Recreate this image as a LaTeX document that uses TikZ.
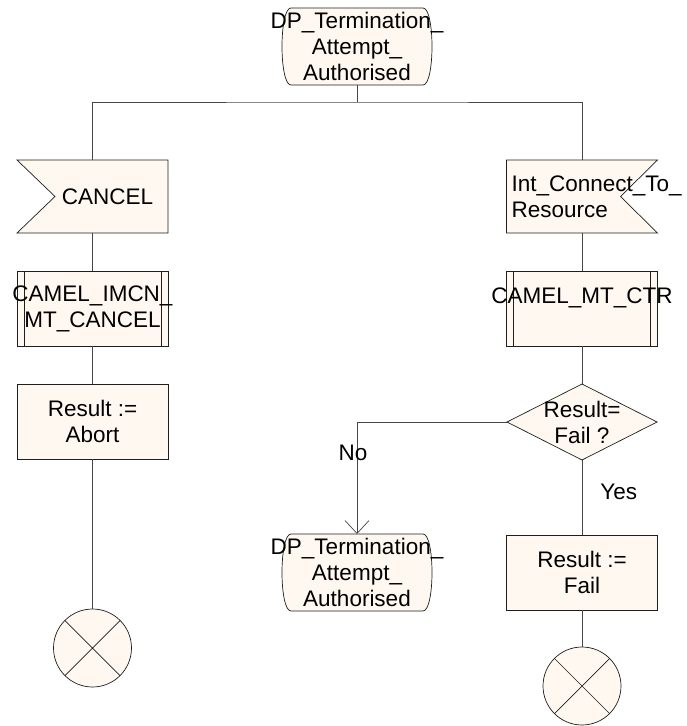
\documentclass[tikz,border=0pt]{standalone}
\usepackage{fontspec}
\setmainfont{Liberation Sans}
\usetikzlibrary{arrows.meta,positioning,shapes.geometric,backgrounds}

\definecolor{sdlfill}{RGB}{255,248,240}
\definecolor{sdlline}{RGB}{30,30,30}
\definecolor{sdlwire}{RGB}{70,70,70}
\newcommand{\spill}[1]{\makebox[0pt]{#1}}

\begin{document}
\begin{tikzpicture}[x=1pt, y=-1pt,
  node distance=38pt,
  base/.style={inner sep=0pt, outer sep=0pt, align=center, minimum width=151pt, minimum height=75pt, font=\fontsize{22.5}{26}\selectfont},
  outline/.style={draw=sdlline, fill=sdlfill, line width=.7pt},
  task/.style={base, outline},
  proc/.style={task, path picture={
      \draw[sdlline, line width=.7pt]
        ([xshift=7pt]path picture bounding box.north west) -- ([xshift=7pt]path picture bounding box.south west)
        ([xshift=-7pt]path picture bounding box.north east) -- ([xshift=-7pt]path picture bounding box.south east);}},
  inbox/.style={base, minimum height=73pt},
  statebox/.style={base, minimum width=152pt, minimum height=77pt},
  decision/.style={base, outline, diamond, minimum width=150pt, minimum height=76pt},
  stopsym/.style={outline, circle, inner sep=0pt, outer sep=0pt, minimum size=78pt, path picture={
      \draw[sdlline, line width=.7pt]
        (path picture bounding box.north west) -- (path picture bounding box.south east)
        (path picture bounding box.north east) -- (path picture bounding box.south west);}},
  lbl/.style={inner sep=0pt, font=\fontsize{22.5}{26}\selectfont},
  link/.style={draw=sdlwire, line width=.7pt},
  arrow/.style={link, -{Straight Barb[length=13pt, width=24pt]}}
]
\useasboundingbox (0,0) rectangle (687,726);

\node[statebox] (start) at (357,46.5) {\spill{DP\_Termination\_}\\Attempt\_\\Authorised};
\coordinate[below=17pt of start] (split);

% left branch
\node[inbox] (cancel) at (92.5,196.5) {\hspace*{30pt}CANCEL};
\node[proc, below=of cancel] (camelL) {\spill{CAMEL\_IMCN\_}\\MT\_CANCEL};
\node[task, below=of camelL] (resA) {Result :=\\Abort};
\node[stopsym, below=150pt of resA] (stopA) {};

% right branch
\node[inbox, text width=141pt, align=left, inner xsep=5pt] (intc) at (582,196.5) {Int\_Connect\_To\_\\Resource};
\node[proc, below=of intc] (camelR) {\spill{CAMEL\_MT\_CTR}\\\mbox{}};
\node[decision, below=of camelR] (dec) {\spill{Result=}\\\spill{Fail ?}};
\node[task, below=75pt of dec] (resF) {Result :=\\Fail};
\node[stopsym, below=37pt of resF] (stopF) {};
\node[statebox] (endst) at (start |- resF) {\spill{DP\_Termination\_}\\Attempt\_\\Authorised};

% outlines of state and input symbols
\begin{scope}[on background layer]
  \foreach \s in {start,endst}
    \draw[outline] ([xshift=10pt]\s.north west) -- ([xshift=-10pt]\s.north east)
      .. controls ([xshift=2pt]\s.north east) and ([xshift=2pt]\s.south east) .. ([xshift=-10pt]\s.south east)
      -- ([xshift=10pt]\s.south west)
      .. controls ([xshift=-2pt]\s.south west) and ([xshift=-2pt]\s.north west) .. cycle;
  \draw[outline] (cancel.north west) -- (cancel.north east) -- (cancel.south east)
    -- (cancel.south west) -- ([xshift=38pt]cancel.west) -- cycle;
  \draw[outline] (intc.north west) -- (intc.north east) -- ([xshift=-37pt]intc.east)
    -- (intc.south east) -- (intc.south west) -- cycle;
\end{scope}

\draw[link] (start) -- (split);
\draw[link] (cancel.north) |- (split) -| (intc.north);
\draw[link] (cancel) -- (camelL);
\draw[link] (camelL) -- (resA);
\draw[link] (resA) -- (stopA);
\draw[link] (intc) -- (camelR);
\draw[link] (camelR) -- (dec);
\draw[link] (dec) -- node[lbl, pos=0.43, right=18pt] (yeslab) {Yes} (resF);
\draw[link] (resF) -- (stopF);
\draw[arrow] (dec.west) -| node[lbl, pos=0.64, xshift=-4pt] (nolab) {No} (endst.north);
\end{tikzpicture}
\end{document}
